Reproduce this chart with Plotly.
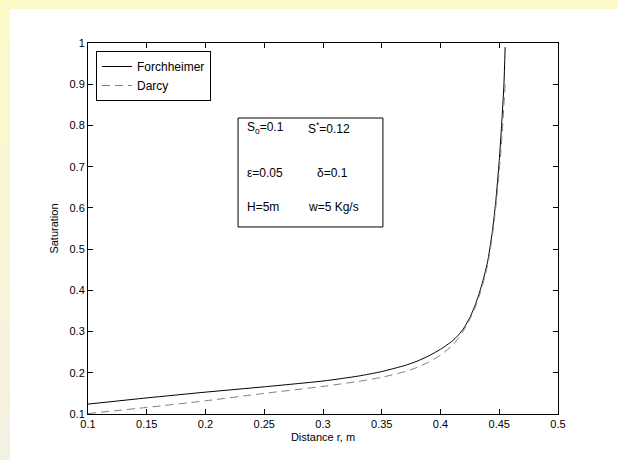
import plotly.graph_objects as go

# ---- data ----
forch_x = [0.1, 0.15, 0.2, 0.25, 0.3, 0.33, 0.35, 0.37, 0.38, 0.39, 0.40, 0.41, 0.415, 0.42,
           0.425, 0.43, 0.435, 0.44, 0.444, 0.447, 0.450, 0.452, 0.454, 0.455]
forch_y = [0.124, 0.139, 0.153, 0.166, 0.180, 0.192, 0.203, 0.218, 0.228, 0.241, 0.257, 0.277,
           0.291, 0.309, 0.334, 0.368, 0.412, 0.468, 0.540, 0.615, 0.715, 0.800, 0.900, 0.990]

darcy_x = [0.1, 0.15, 0.2, 0.25, 0.3, 0.33, 0.35, 0.37, 0.38, 0.39, 0.40, 0.41, 0.415, 0.42,
           0.425, 0.43, 0.435, 0.44, 0.444, 0.447, 0.450, 0.452, 0.454, 0.455]
darcy_y = [0.101, 0.116, 0.132, 0.150, 0.167, 0.179, 0.189, 0.203, 0.213, 0.226, 0.243, 0.266,
           0.283, 0.304, 0.330, 0.362, 0.405, 0.460, 0.530, 0.600, 0.690, 0.760, 0.850, 0.900]

x_ticks = [0.1, 0.15, 0.2, 0.25, 0.3, 0.35, 0.4, 0.45, 0.5]
x_labels = ["0.1", "0.15", "0.2", "0.25", "0.3", "0.35", "0.4", "0.45", "0.5"]
y_ticks = [0.1, 0.2, 0.3, 0.4, 0.5, 0.6, 0.7, 0.8, 0.9, 1.0]
y_labels = ["0.1", "0.2", "0.3", "0.4", "0.5", "0.6", "0.7", "0.8", "0.9", "1"]

FONT = "Liberation Sans, Arial, sans-serif"
W, H = 618, 460
L, R, T, B = 88, 60, 43, 46
PW, PH = W - L - R, H - T - B


def px2paper(px, py):
    return (px - L) / PW, (H - B - py) / PH


fig = go.Figure()
fig.add_trace(go.Scatter(x=forch_x, y=forch_y, mode="lines", name="Forchheimer",
                         line=dict(color="black", width=1, shape="spline", smoothing=0.6)))
fig.add_trace(go.Scatter(x=darcy_x, y=darcy_y, mode="lines", name="Darcy",
                         line=dict(color="#7f7f7f", width=1, dash="8px,5px", shape="spline",
                                   smoothing=0.6)))

shapes = []
# yellow page decoration
x0, y0 = px2paper(0, 0)
x1, y1 = px2paper(W, 9)
shapes.append(dict(type="rect", xref="paper", yref="paper", x0=x0, x1=x1, y0=y1, y1=y0,
                   fillcolor="#FCFAC9", line=dict(width=0), layer="below"))
n = 30
c0 = (252, 250, 201)
c1 = (243, 241, 226)
for i in range(n):
    pa = 9 + (H - 9) * i / n
    pb = 9 + (H - 9) * (i + 1) / n
    t = i / (n - 1)
    col = "rgb(%d,%d,%d)" % tuple(round(c0[k] + (c1[k] - c0[k]) * t) for k in range(3))
    xa, ya = px2paper(0, pa)
    xb, yb = px2paper(10, pb + 0.5)
    shapes.append(dict(type="rect", xref="paper", yref="paper", x0=xa, x1=xb, y0=yb, y1=ya,
                       fillcolor=col, line=dict(width=0), layer="below"))

# parameter box
shapes.append(dict(type="rect", xref="x", yref="y", x0=0.2277, x1=0.351, y0=0.5537, y1=0.818,
                   fillcolor="white", line=dict(color="black", width=1)))

ann_font = dict(family=FONT, size=12, color="black")
annotations = [
    dict(x=0.2336, y=0.794, text="S<sub>o</sub>=0.1", showarrow=False, xanchor="left", font=ann_font),
    dict(x=0.2855, y=0.794, text="S<sup>*</sup>=0.12", showarrow=False, xanchor="left", font=ann_font),
    dict(x=0.2336, y=0.685, text="ε=0.05", showarrow=False, xanchor="left", font=ann_font),
    dict(x=0.293, y=0.685, text="δ=0.1", showarrow=False, xanchor="left", font=ann_font),
    dict(x=0.2336, y=0.602, text="H=5m", showarrow=False, xanchor="left", font=ann_font),
    dict(x=0.2855, y=0.602, text="w=5 Kg/s", showarrow=False, xanchor="left", font=ann_font),
]

lx, ly = px2paper(96, 51)
fig.update_layout(
    width=W, height=H,
    margin=dict(l=L, r=R, t=T, b=B),
    paper_bgcolor="white", plot_bgcolor="white",
    font=dict(family=FONT, size=11, color="black"),
    shapes=shapes, annotations=annotations,
    showlegend=True,
    legend=dict(x=lx, y=ly, xanchor="left", yanchor="top", bgcolor="white",
                bordercolor="black", borderwidth=1, font=dict(size=12),
                itemwidth=30, tracegroupgap=0),
    xaxis=dict(range=[0.1, 0.5], tickvals=x_ticks, ticktext=x_labels, ticks="inside",
               ticklen=5, tickcolor="black", showline=True, linecolor="black", linewidth=1,
               mirror="ticks", showgrid=False, zeroline=False,
               title=dict(text="Distance r, m", standoff=4, font=dict(size=11))),
    yaxis=dict(range=[0.1, 1.0], tickvals=y_ticks, ticktext=y_labels, ticks="inside",
               ticklen=5, tickcolor="black", showline=True, linecolor="black", linewidth=1,
               mirror="ticks", showgrid=False, zeroline=False,
               title=dict(text="Saturation", standoff=8, font=dict(size=11))),
)

fig.write_html("out.html")
